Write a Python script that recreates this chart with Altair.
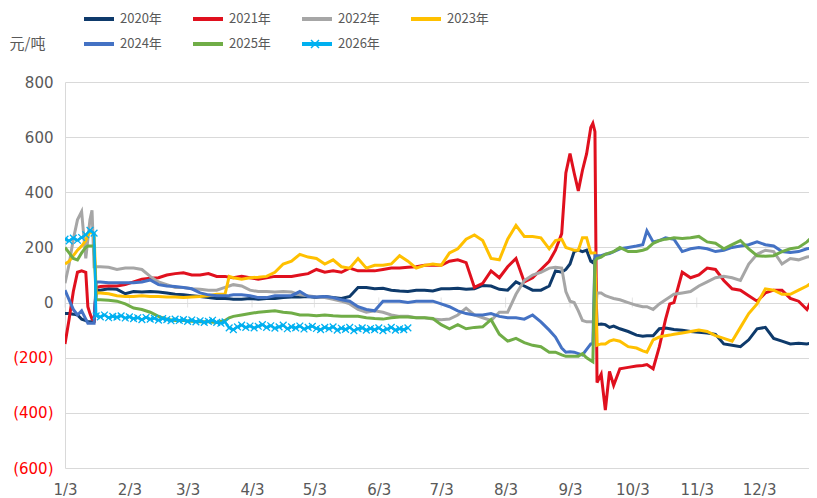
import altair as alt
import pandas as pd

YEAR = 2025
SERIES = ["2020年", "2021年", "2022年", "2023年", "2024年", "2025年", "2026年"]
COLORS = ["#0E3A6B", "#E0101E", "#A6A6A6", "#FFC000", "#4472C4", "#70AD47", "#00B0F0"]
Y_TICKS = [-600, -400, -200, 0, 200, 400, 600, 800]
X_TICK_MONTHS = list(range(1, 13))

dates = ["01-03", "01-05", "01-07", "01-09", "01-11", "01-13", "01-14", "01-15", "01-16", "01-17",
         "01-18", "01-20", "01-24", "01-28", "02-01", "02-05", "02-09", "02-13", "02-17", "02-21",
         "02-25", "03-01", "03-05", "03-09", "03-13", "03-17", "03-21", "03-23", "03-25", "03-29",
         "04-02", "04-06", "04-10", "04-14", "04-18", "04-22", "04-26", "04-30", "05-04", "05-08",
         "05-12", "05-16", "05-20", "05-24", "05-28", "06-01", "06-05", "06-09", "06-13", "06-17",
         "06-21", "06-25", "06-29", "07-03", "07-07", "07-11", "07-15", "07-19", "07-23", "07-27",
         "07-31", "08-04", "08-08", "08-12", "08-16", "08-20", "08-24", "08-27", "08-30", "09-01",
         "09-03", "09-05", "09-07", "09-09", "09-11", "09-13", "09-14", "09-15", "09-16", "09-18",
         "09-20", "09-22", "09-24", "09-27", "10-01", "10-05", "10-08", "10-10", "10-13", "10-16",
         "10-19", "10-21", "10-23", "10-27", "10-31", "11-04", "11-08", "11-12", "11-16", "11-20",
         "11-24", "11-28", "12-02", "12-06", "12-10", "12-14", "12-18", "12-22", "12-26", "12-30"]

v2020 = [-40, -40, -42, -45, -60, -65, -70, -70, -70, -68,
         45, 45, 50, 48, 32, 40, 38, 40, 38, 35,
         30, 28, 25, 22, 18, 15, 15, 14, 12, 12,
         15, 12, 15, 15, 18, 20, 20, 22, 18, 22,
         18, 15, 22, 55, 55, 50, 52, 45, 42, 40,
         45, 45, 42, 50, 50, 52, 48, 50, 62, 60,
         48, 45, 75, 60, 45, 45, 60, 115, 110, 120,
         140, 185, 190, 185, 190, 150, 145, 160, -80, -78,
         -80, -90, -85, -95, -105, -118, -122, -120, -120, -95,
         -92, -95, -98, -100, -105, -108, -110, -115, -150, -155,
         -160, -135, -95, -90, -130, -140, -150, -148, -150, -145]

v2021 = [-150, -60, 40, 110, 115, 110, -15, -40, -60, -65,
         55, 58, 60, 60, 65, 75, 85, 88, 90, 100,
         105, 108, 100, 100, 105, 95, 95, 92, 90, 95,
         90, 85, 90, 95, 95, 95, 100, 105, 120, 110,
         115, 110, 125, 115, 115, 115, 120, 125, 125, 128,
         130, 135, 135, 135, 150, 155, 145, 55, 70, 115,
         90, 130, 160, 75, 90, 120, 150, 190, 250, 470,
         540, 470, 405, 480, 540, 635, 650, 620, -290, -260,
         -390, -250, -300, -240, -235, -230, -228, -225, -240, -160,
         -60, -5, 0, 110, 90, 100, 125, 120, 80, 50,
         45, 25, 5, 35, 45, 45, 15, 5, -25, 35]

v2022 = [70, 140, 230, 300, 330, 160, 230, 300, 335, 130,
         130, 130, 128, 120, 125, 125, 120, 95, 75, 65,
         55, 55, 50, 48, 45, 45, 55, 60, 65, 60,
         45, 40, 40, 38, 40, 38, 28, 25, 20, 18,
         12, 5, -5, -25, -35, -30, -35, -45, -50, -50,
         -55, -55, -60, -62, -60, -45, -20, -45, -55, -65,
         -35, -35, 30, 80, 100, 110, 125, 128, 125, 40,
         5, 0, -30, -65, -70, -70, -70, -70, 35, 35,
         25, 20, 15, 10, 0, -10, -15, -15, -25, -5,
         10, 20, 30, 35, 40, 60, 75, 90, 95, 90,
         80, 140, 175, 190, 185, 140, 160, 155, 165, 170]

v2023 = [140, 150, 170, 190, 205, 225, 245, 255, 255, 250,
         35, 35, 32, 25, 22, 22, 25, 22, 22, 20,
         20, 18, 20, 22, 25, 30, 30, 95, 90, 85,
         90, 92, 95, 110, 140, 150, 175, 165, 160, 140,
         155, 130, 125, 160, 125, 135, 135, 140, 170, 150,
         125, 135, 140, 135, 180, 195, 230, 245, 225, 160,
         155, 230, 280, 240, 240, 235, 195, 225, 230, 200,
         195, 190, 190, 235, 235, 180, 180, 180, -155, -150,
         -150, -140, -135, -140, -160, -165, -175, -180, -135, -125,
         -120, -118, -115, -110, -105, -100, -105, -120, -130, -140,
         -90, -40, -5, 50, 45, 30, 30, 45, 60, 80]

v2024 = [45, 10, -25, -45, -30, -60, -75, -75, -75, -75,
         75, 75, 72, 72, 72, 72, 75, 82, 65, 60,
         58, 55, 50, 35, 28, 25, 25, 26, 28, 28,
         25, 18, 18, 25, 25, 25, 40, 22, 20, 22,
         18, 10, 5, -15, -25, -30, 5, 5, 5, 0,
         5, 5, 5, -5, -15, -30, -40, -45, -45, -40,
         -50, -55, -55, -60, -45, -70, -100, -125, -165, -180,
         -178, -180, -185, -190, -170, -150, -150, 170, 170, 170,
         175, 178, 185, 195, 200, 205, 210, 260, 220, 225,
         235, 232, 230, 185, 195, 200, 195, 185, 190, 200,
         205, 210, 220, 210, 205, 185, 182, 185, 195, 200]

v2025 = [200, 180, 160, 155, 180, 200, 205, 205, 205, 205,
         10, 10, 8, 5, -5, -20, -25, -35, -50, -60,
         -65, -65, -68, -70, -70, -72, -65, -55, -50, -45,
         -40, -35, -32, -30, -35, -38, -45, -45, -48, -45,
         -48, -50, -50, -50, -55, -58, -60, -55, -52, -52,
         -55, -55, -58, -80, -95, -80, -95, -90, -88, -62,
         -115, -140, -130, -145, -155, -160, -180, -180, -190, -195,
         -195, -195, -195, -185, -200, -210, -215, 150, 160, 165,
         175, 180, 185, 200, 185, 185, 190, 195, 215, 225,
         230, 232, 235, 232, 235, 240, 220, 215, 195, 210,
         225, 195, 170, 168, 170, 185, 195, 200, 220, 250]

# 2026: early readings, then every second day
d2026 = ["01-03", "01-05", "01-07", "01-09", "01-11", "01-13", "01-15", "01-17"] + \
    list(pd.date_range(f"{YEAR}-01-18", periods=76, freq="2D").strftime("%m-%d"))
v2026 = [230, 224, 234, 226, 236, 246, 262, 252,
         -48, -52, -45, -55, -50, -53, -48,
         -56, -52, -58, -55, -62, -54, -60, -57, -64, -58, -62, -66, -60, -65,
         -62, -68, -63, -70, -66, -72, -68, -64, -72, -75, -70, -92, -98, -88, -82, -90,
         -85, -92, -86, -80, -90, -84, -93, -88, -82, -95, -88, -92, -85, -96, -90,
         -86, -94, -98, -90, -95, -88, -100, -93, -97, -90, -102, -95, -92, -100, -94,
         -98, -92, -102, -96, -90, -100, -95, -98, -92]


def to_date(md):
    return f"{YEAR}/{md[:2]}/{md[3:]}"


rows = []
for name, vals in zip(SERIES[:6], [v2020, v2021, v2022, v2023, v2024, v2025]):
    assert len(vals) == len(dates), (name, len(vals))
    rows += [{"date": to_date(d), "series": name, "value": v} for d, v in zip(dates, vals)]
main_df = pd.DataFrame(rows)

assert len(d2026) == len(v2026), len(v2026)
df26 = pd.DataFrame({"date": [to_date(d) for d in d2026], "series": "2026年",
                     "value": v2026, "mk": "2026年"})
tick_df = pd.DataFrame({"date": [f"{YEAR}/{m:02d}/03" for m in X_TICK_MONTHS], "value": 0})

GREY = "#595959"
GRID = "#D9D9D9"
XPATH = "M-1,-1L1,1M-1,1L1,-1"

x_enc = alt.X(
    "date:T",
    scale=alt.Scale(domain=[alt.DateTime(year=YEAR, month=1, date=3),
                            alt.DateTime(year=YEAR, month=12, date=27)]),
    axis=alt.Axis(values=[alt.DateTime(year=YEAR, month=m, date=3) for m in X_TICK_MONTHS],
                  format="%-m/%-d", labelFontSize=15, labelColor=GREY, labelFont="DejaVu Sans",
                  ticks=False, grid=False, domain=False, labelPadding=14,
                  labelFlush=False, labelOverlap=False, title=None),
)
y_enc = alt.Y(
    "value:Q",
    scale=alt.Scale(domain=[-600, 800], nice=False, zero=False),
    axis=alt.Axis(values=Y_TICKS,
                  labelExpr="datum.value < 0 ? '(' + format(-datum.value, ',') + ')' : format(datum.value, ',')",
                  labelColor={"condition": {"test": "datum.value < 0", "value": "#FF0000"}, "value": GREY},
                  labelFontSize=15, labelFont="DejaVu Sans", labelPadding=12, ticks=False,
                  domain=True, domainColor=GRID, gridColor=GRID, gridWidth=1,
                  title="元/吨", titleAngle=0, titleX=-56, titleY=-39, titleAlign="left",
                  titleBaseline="middle", titleFontSize=15, titleFontWeight="normal",
                  titleColor=GREY, titleFont="Noto Sans CJK SC"),
)
color_enc = alt.Color(
    "series:N",
    scale=alt.Scale(domain=SERIES, range=COLORS),
    legend=alt.Legend(orient="none", legendX=17, legendY=-80, direction="horizontal",
                      columns=4, title=None, symbolType="stroke", symbolSize=900,
                      symbolStrokeWidth=4, labelFontSize=13, labelColor=GREY,
                      labelFont="Noto Sans CJK SC", columnPadding=23, rowPadding=0,
                      labelOffset=4, padding=0),
)

ticks = alt.Chart(tick_df).mark_tick(orient="vertical", size=10, thickness=1, color=GRID).encode(
    x=x_enc, y=y_enc)
lines = alt.Chart(main_df).mark_line(strokeWidth=3, clip=True).encode(
    x=x_enc, y=y_enc, color=color_enc)
line26 = alt.Chart(df26).mark_line(strokeWidth=2.5, clip=True).encode(
    x=x_enc, y=y_enc, color=color_enc)
pts26 = alt.Chart(df26).mark_point(filled=False, size=45, strokeWidth=1.3, opacity=1, clip=True).encode(
    x=x_enc, y=y_enc, color=alt.value("#00B0F0"),
    shape=alt.Shape("mk:N", scale=alt.Scale(domain=["2026年"], range=[XPATH]),
                    legend=alt.Legend(orient="none", legendX=245, legendY=-43, title=None,
                                      symbolSize=64, symbolStrokeColor="#00B0F0",
                                      symbolStrokeWidth=1.5, symbolFillColor="transparent",
                                      labelExpr="''", labelFontSize=8, labelLimit=1,
                                      padding=0)),
)

chart = alt.layer(ticks, lines, line26, pts26).properties(
    width=744, height=386,
    autosize=alt.AutoSizeParams(type="none"),
    padding={"left": 57, "top": 74, "right": 0, "bottom": 30},
).configure_view(stroke=None)

chart.save("out.html", embed_options={"renderer": "svg", "actions": False})
